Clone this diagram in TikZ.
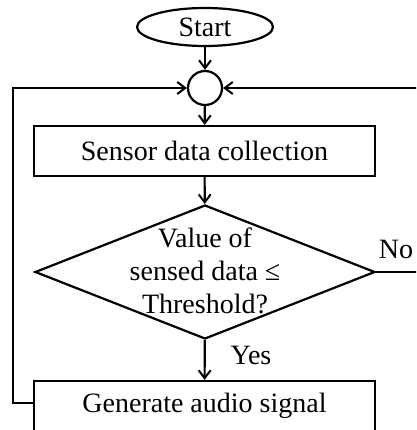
\documentclass[tikz,border=0pt]{standalone}
\usepackage{fontspec}
\setmainfont{Liberation Serif}
\usetikzlibrary{shapes.geometric,arrows.meta}
\begin{document}
\begin{tikzpicture}[x=1pt,y=-1pt, line width=2.2pt,
  arr/.style={-{Straight Barb[length=8pt,width=12pt,line width=2pt]}},
  box/.style={draw, minimum width=341pt, minimum height=50pt, inner sep=0pt},
  txt/.style={font=\fontsize{28}{33}\selectfont}]
\useasboundingbox (0,0) rectangle (416,430);
\clip (0,0) rectangle (416,430);
\node[draw, ellipse, minimum width=136pt, minimum height=38pt, inner sep=0pt, txt] (start) at (205,27) {Start};
\node[draw, circle, minimum size=34pt, inner sep=0pt] (join) at (205,88) {};
\node[box, txt] (sense) at (204.5,151) {Sensor data collection};
\node[draw, diamond, minimum width=340pt, minimum height=134pt, inner sep=0pt] (dec) at (205,272) {};
\node[txt, align=center, inner sep=0pt] (dectext) at (205,271) {Value of\\sensed data ≤\\Threshold?};
\node[box, txt] (gen) at (204.5,406) {Generate audio signal};
\coordinate (lc) at (13,88);
\coordinate (rc) at (440,88);
\draw[arr] (start) -- (join);
\draw[arr] (join) -- (sense);
\draw[arr] (sense) -- (dec);
\draw[arr] (dec) -- (gen);
\node[txt] (yes) at (251,355) {Yes};
\draw[arr] (gen.west |- 0,403) -| (lc) -- (join.west);
\draw[arr] (dec.east) -| (rc) -- (join.east);
\node[txt] (no) at (396,249) {No};
\end{tikzpicture}
\end{document}
